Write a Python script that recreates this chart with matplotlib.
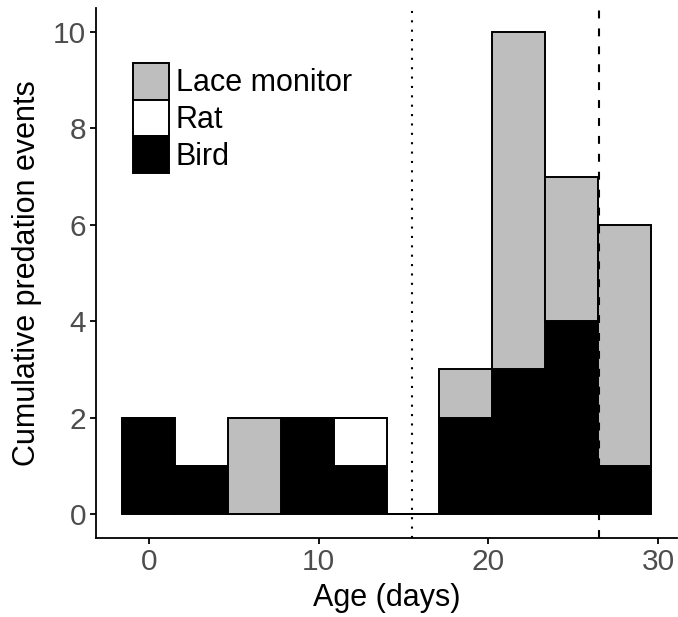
import numpy as np
import matplotlib
matplotlib.use("Agg")
import matplotlib.pyplot as plt
from matplotlib.patches import Patch

plt.rcParams['font.family'] = ['Liberation Sans', 'DejaVu Sans']

# histogram bins (10 bins over ages 0..28)
bin_centers = np.linspace(0, 28, 10)
bin_width = 28 / 9
bird = [2, 1, 0, 2, 1, 0, 2, 3, 4, 1]
rat = [0, 0, 0, 0, 1, 0, 0, 0, 0, 0]
lace = [0, 0, 2, 0, 0, 0, 1, 7, 3, 5]
species = ["Bird", "Rat", "Lace monitor"]
colours = ["black", "white", "#BEBEBE"]
vline_dotted = 15.5
vline_dashed = 26.5

fig = plt.figure(figsize=(6.78, 6.17), dpi=100)
W, H = 678, 617
ax = fig.add_axes([96 / W, (H - 538) / H, (677 - 96) / W, (538 - 8) / H])

bottom = np.zeros(10)
for vals, col in zip([bird, rat, lace], colours):
    ax.bar(bin_centers, vals, width=bin_width, bottom=bottom, color=col,
           edgecolor="black", linewidth=1.4, zorder=2)
    bottom += np.array(vals)

ax.axvline(vline_dotted, color="black", lw=1.5, linestyle=(0, (1.0, 3.5)), zorder=3)
ax.axvline(vline_dashed, color="black", lw=1.5, linestyle=(0, (3.8, 4.8)), zorder=3)

lo = bin_centers[0] - bin_width / 2
hi = bin_centers[-1] + bin_width / 2
pad = (hi - lo) * 0.05
ax.set_xlim(lo - pad, hi + pad)
ax.set_ylim(-0.5, 10.5)
ax.set_xticks([0, 10, 20, 30])
ax.set_yticks([0, 2, 4, 6, 8, 10])

for s in ["top", "right"]:
    ax.spines[s].set_visible(False)
for s in ["left", "bottom"]:
    ax.spines[s].set_linewidth(1.3)
ax.tick_params(length=4, width=1.3, labelsize=21.5, labelcolor="#4D4D4D", pad=3)

ax.set_xlabel("Age (days)", fontsize=22, labelpad=5)
ax.set_ylabel("Cumulative predation events", fontsize=22, labelpad=8)

handles = [Patch(facecolor=c, edgecolor="black", linewidth=1.4) for c in colours]
leg = ax.legend(handles[::-1], species[::-1], loc="upper left",
                bbox_to_anchor=(133 / W, (H - 63) / H), bbox_transform=fig.transFigure,
                frameon=False, fontsize=22, handlelength=1.18, handleheight=1.47,
                handletextpad=0.22, labelspacing=0.0, borderpad=0, borderaxespad=0)

fig.savefig("out.png", dpi=100)
